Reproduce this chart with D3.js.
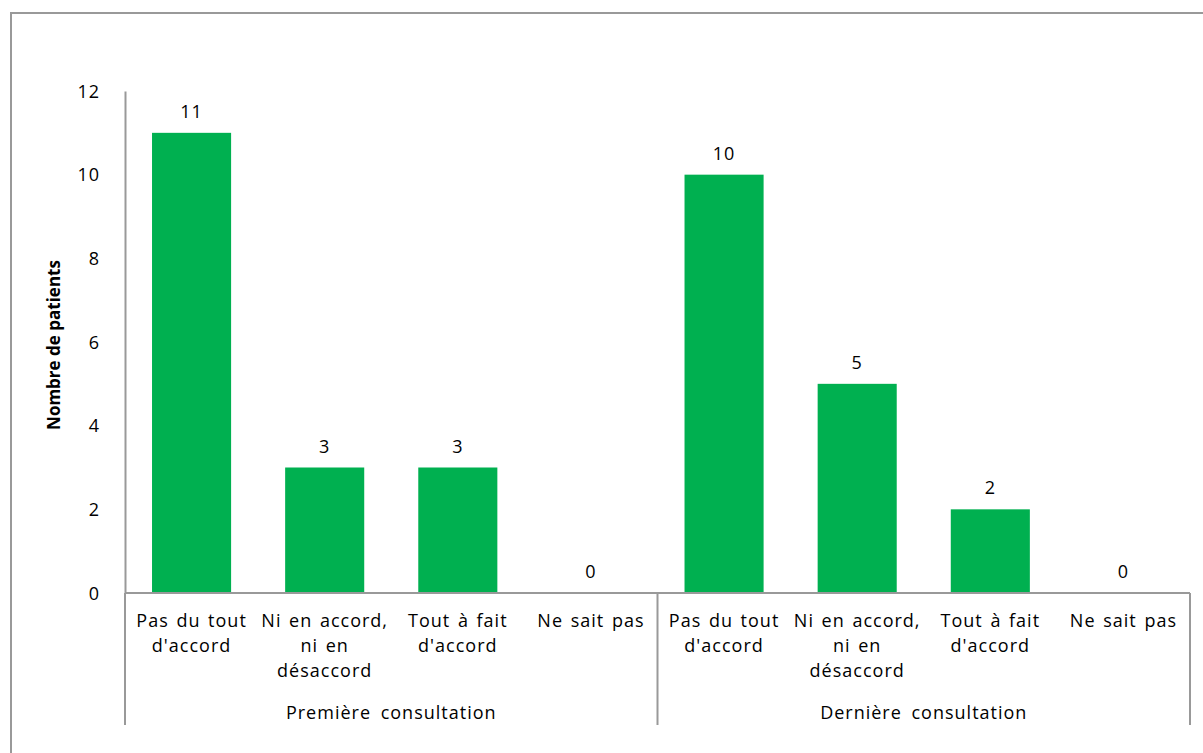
<!DOCTYPE html>
<html><head><meta charset="utf-8">
<script src="https://cdn.jsdelivr.net/npm/d3@7"></script>
<style>body{margin:0;background:#fff}svg{display:block}text{font-family:"Open Sans",sans-serif;fill:#000}</style>
</head><body>
<script>
const groups = ["Première consultation", "Dernière consultation"];
const categories = ["Pas du tout|d'accord", "Ni en accord,|ni en|désaccord", "Tout à fait|d'accord", "Ne sait pas"];
const firstValues = [11, 3, 3, 0];
const lastValues = [10, 5, 2, 0];
const yTicks = [0, 2, 4, 6, 8, 10, 12];
const yTitle = "Nombre de patients";

const data = [];
groups.forEach((g, gi) => {
  const vals = gi === 0 ? firstValues : lastValues;
  categories.forEach((c, ci) => data.push({key: gi + "-" + ci, group: g, cat: c, value: vals[ci]}));
});

const W = 1203, H = 753;
const svg = d3.select("body").append("svg").attr("width", W).attr("height", H);

// outer border
svg.append("rect").attr("x", 11).attr("y", 13).attr("width", 1200).attr("height", 760)
  .attr("fill", "none").attr("stroke", "#999").attr("stroke-width", 2);

const left = 125, right = 1190, y0 = 593, yTop = 91;
const x = d3.scaleBand().domain(data.map(d => d.key)).range([left, right]).paddingInner(0.406).paddingOuter(0.203);
const y = d3.scaleLinear().domain([0, 12]).range([y0, yTop]);

// bars
svg.selectAll("rect.bar").data(data).join("rect").attr("class", "bar")
  .attr("x", d => x(d.key)).attr("width", x.bandwidth())
  .attr("y", d => y(d.value)).attr("height", d => y(0) - y(d.value))
  .attr("fill", "#00B050");

// value labels
svg.selectAll("text.val").data(data).join("text").attr("class", "val")
  .attr("x", d => x(d.key) + x.bandwidth() / 2).attr("y", d => y(d.value) - 15)
  .attr("text-anchor", "middle").attr("font-size", 18).attr("letter-spacing", 1).text(d => d.value);

// y axis
const yAxis = d3.axisLeft(y).tickValues(yTicks).tickSize(0).tickPadding(25);
const ya = svg.append("g").attr("transform", `translate(${left},0)`).call(yAxis);
ya.select(".domain").attr("stroke", "#999").attr("stroke-width", 2);
ya.selectAll("text").attr("font-size", 18).attr("font-family", "Open Sans").attr("fill", "#000").attr("dy", "0.35em").attr("letter-spacing", 1);

// x axis line
svg.append("line").attr("x1", left).attr("x2", right).attr("y1", y0).attr("y2", y0)
  .attr("stroke", "#999").attr("stroke-width", 2);

// group separators
const step = x.step();
const seps = [left, left + 4 * step, right];
svg.selectAll("line.sep").data(seps).join("line").attr("class", "sep")
  .attr("x1", d => d).attr("x2", d => d).attr("y1", y0).attr("y2", 725)
  .attr("stroke", "#999").attr("stroke-width", 2);

// category labels
const cl = svg.selectAll("text.cat").data(data).join("text").attr("class", "cat")
  .attr("text-anchor", "middle").attr("font-size", 18).attr("letter-spacing", 1).attr("word-spacing", 2);
cl.each(function(d) {
  const cx = x(d.key) + x.bandwidth() / 2;
  d.cat.split("|").forEach((line, i) => {
    d3.select(this).append("tspan").attr("x", cx).attr("y", 627 + i * 25).text(line);
  });
});

// group labels
svg.selectAll("text.grp").data(groups).join("text").attr("class", "grp")
  .attr("x", (d, i) => left + (i * 4 + 2) * step).attr("y", 719)
  .attr("text-anchor", "middle").attr("font-size", 18).attr("letter-spacing", 1).attr("word-spacing", 4).text(d => d);

// y title
svg.append("text").attr("transform", `translate(60,${(y0 + yTop) / 2 + 3}) rotate(-90)`)
  .attr("text-anchor", "middle").attr("font-size", 17).attr("font-weight", "bold")
  .text(yTitle);
</script>
</body></html>
